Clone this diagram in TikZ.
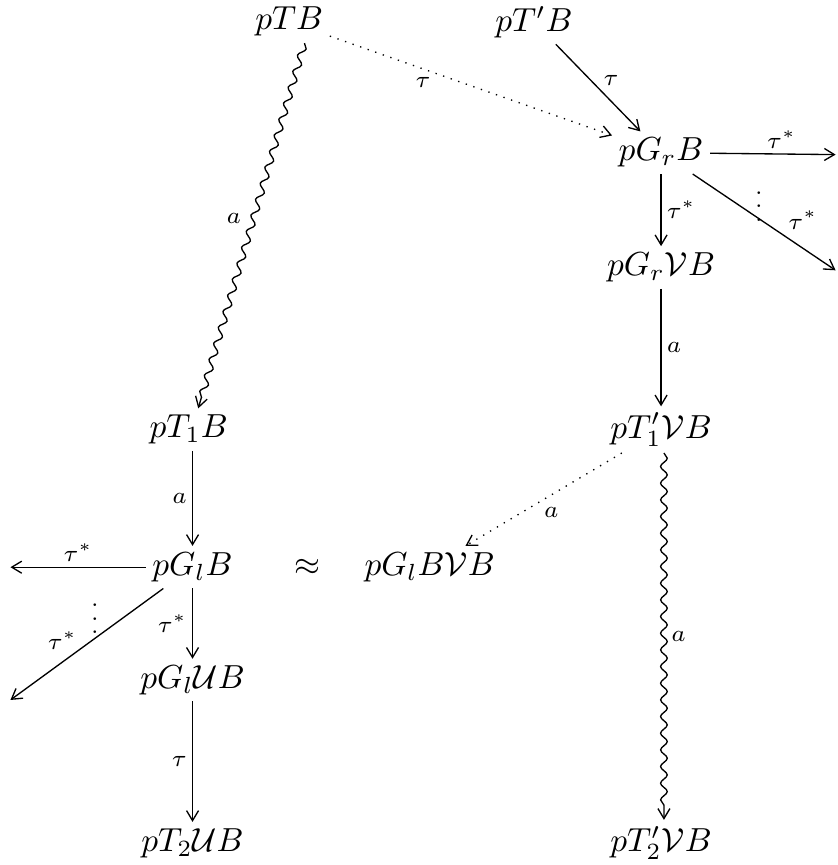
\documentclass[tikz,border=0pt]{standalone}
\usepackage{amsmath,amssymb}
\usepackage{tikz}
\usetikzlibrary{arrows.meta,decorations.pathmorphing}
\tikzset{
	obj/.style={inner sep=2pt, outer sep=0pt},
	lbl/.style={font=\scriptsize, inner sep=1.5pt},
	ar/.style={thin, -{Straight Barb[length=3pt,width=3.6pt]}},
	dotar/.style={ar, dotted},
	wavy/.style={ar, decorate, decoration={snake, segment length=5pt, amplitude=1pt, post length=2.5pt}},
}

\begin{document}
\begin{tikzpicture}[x=1cm, y=1cm]
				\useasboundingbox (0,0) rectangle (8.83,-9.12);
				% objects
				\node[obj] at (3.05,-0.23) (ptb) {$pTB$};
				\node[obj] at (5.63,-0.23) (ptpb) {$pT'B$};
				\node[obj] at (6.97,-1.61) (pgrb) {$pG_rB$};
				\node[obj] at (6.97,-2.82) (pgrvb) {$pG_r\mathcal{V}B$};
				\node[obj] at (6.97,-4.53) (ptonevb) {$pT_1'\mathcal{V}B$};
				\node[obj] at (6.97,-8.89) (pttwovb) {$pT_2'\mathcal{V}B$};
				\node[obj] at (1.99,-4.53) (ptoneb) {$pT_1B$};
				\node[obj] at (2.03,-5.98) (pglb) {$pG_lB$};
				\node[obj] at (2.03,-7.17) (pglub) {$pG_l\mathcal{U}B$};
				\node[obj] at (2.03,-8.89) (pttwoub) {$pT_2\mathcal{U}B$};
				\node[obj] at (3.24,-5.98) (approx) {$\approx$};
				\node[obj] at (4.53,-5.98) (pglbvb) {$pG_lB\mathcal{V}B$};
				% free ends
				\coordinate (gre) at (8.81,-1.63);
				\coordinate (grse) at (8.81,-2.85);
				\coordinate (glw) at (0.11,-5.98);
				\coordinate (glsw) at (0.11,-7.38);
				% left column
				\draw[wavy] ([xshift=1.6mm]ptb.south) -- ([xshift=1mm]ptoneb.north) node[lbl, pos=0.48, left=2pt] {$a$};
				\draw[ar] (ptoneb.south -| pglb) -- (pglb) node[lbl, midway, left] {$a$};
				\draw[ar] (pglb) -- (glw) node[lbl, midway, above] {$\tau^*$};
				\draw[ar] (pglb) -- (glsw) node[lbl, pos=0.66, above=2pt] {$\tau^*$};
				\node[lbl] at (1.0,-6.42) (vdl) {$\vdots$};
				\draw[ar] (pglb) -- (pglub) node[lbl, midway, left] {$\tau^*$};
				\draw[ar] (pglub) -- (pttwoub) node[lbl, midway, left] {$\tau$};
				% right column
				\draw[dotar] (ptb) -- (pgrb) node[lbl, pos=0.33, below=1pt] {$\tau$};
				\draw[ar] (ptpb) -- (pgrb) node[lbl, pos=0.42, right=2pt] {$\tau$};
				\draw[ar] (pgrb) -- (gre) node[lbl, pos=0.57, above] {$\tau^*$};
				\draw[ar] (pgrb) -- (grse) node[lbl, pos=0.63, above right=0pt] {$\tau^*$};
				\node[lbl] at (8.0,-2.07) (vdr) {$\vdots$};
				\draw[ar] (pgrb) -- (pgrvb) node[lbl, midway, right] {$\tau^*$};
				\draw[ar] (pgrvb) -- (ptonevb) node[lbl, midway, right] {$a$};
				\draw[dotar] (ptonevb) -- (pglbvb) node[lbl, pos=0.45, below=2pt] {$a$};
				\draw[wavy] ([xshift=0.3mm]ptonevb.south) -- ([xshift=0.3mm]pttwovb.north) node[lbl, midway, right=0.5pt] {$a$};
			\end{tikzpicture}
\end{document}
